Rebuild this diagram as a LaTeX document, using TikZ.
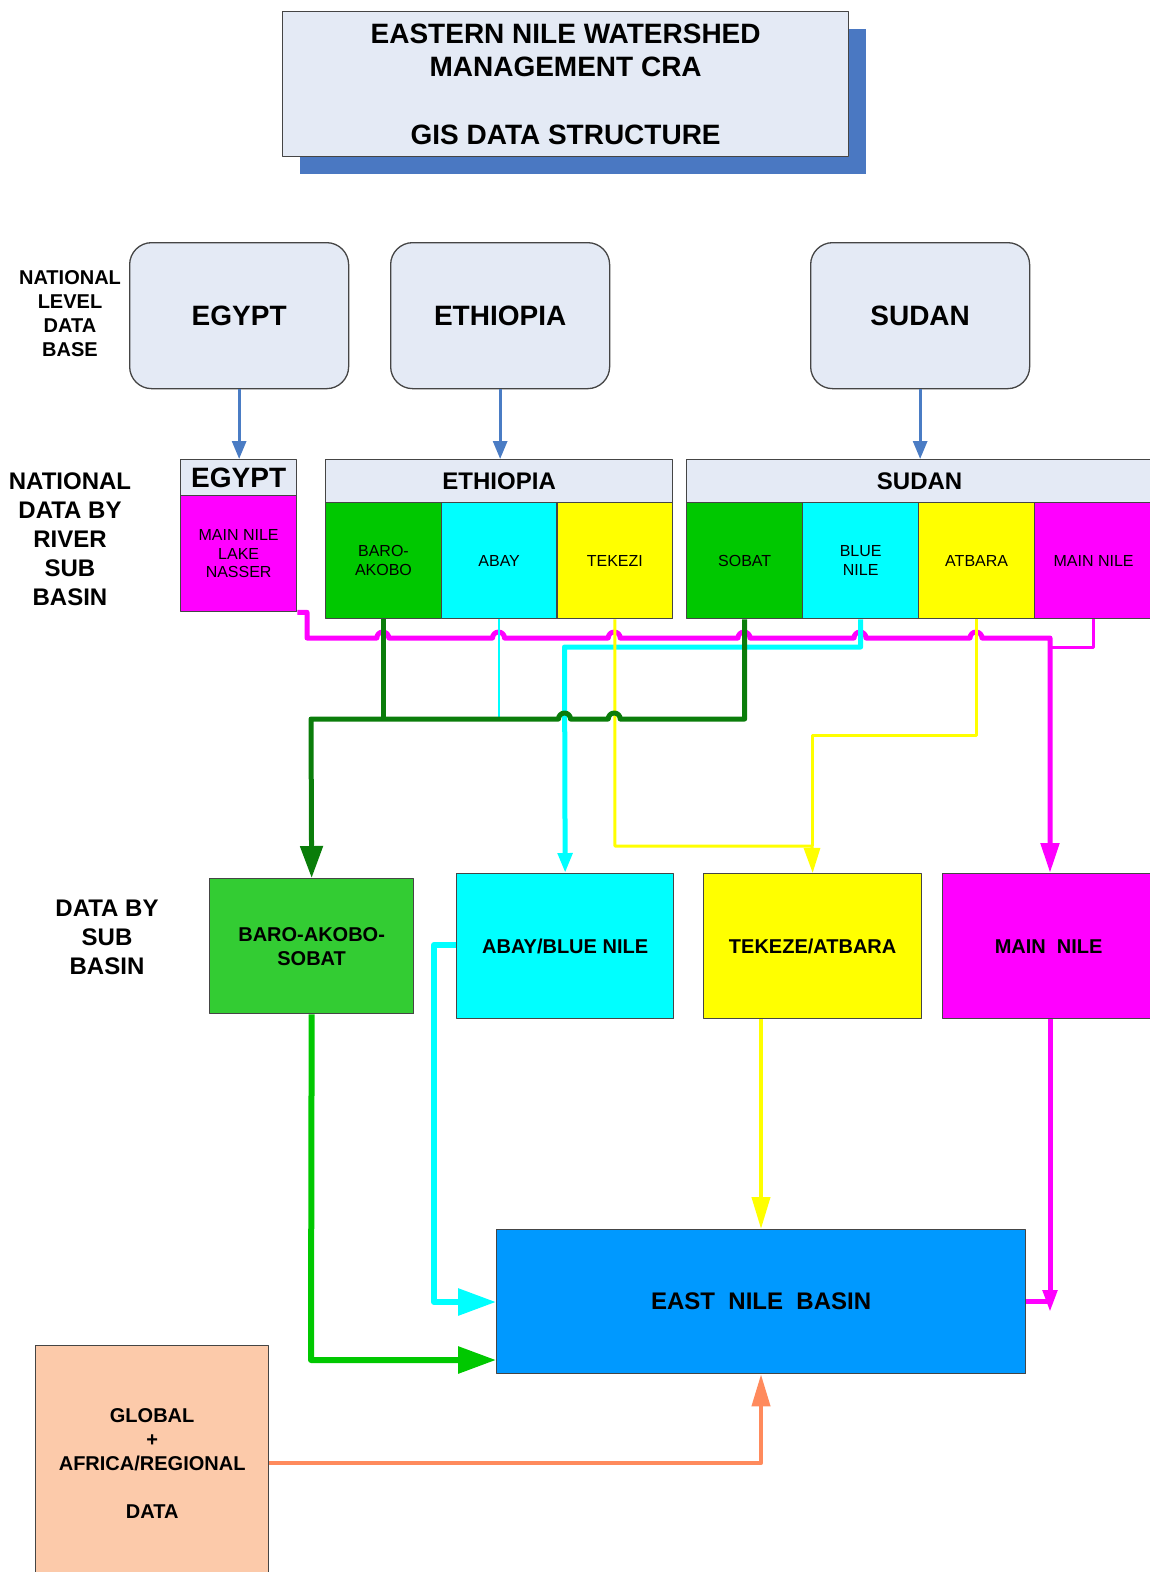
\documentclass[tikz,border=0pt]{standalone}
\usepackage{fontspec}
\setmainfont{Liberation Sans}
\usetikzlibrary{arrows.meta}
\definecolor{hdr}{HTML}{E4EAF5}
\definecolor{shadowblue}{HTML}{4A78C2}
\definecolor{bluearrow}{HTML}{4A7CC4}
\definecolor{mag}{HTML}{FF00FF}
\definecolor{cy}{HTML}{00FFFF}
\definecolor{yel}{HTML}{FFFF00}
\definecolor{grn}{HTML}{00C800}
\definecolor{dgrn}{HTML}{0A7D0A}
\definecolor{lgrn}{HTML}{33CC33}
\definecolor{enb}{HTML}{0099FF}
\definecolor{peach}{HTML}{FCCAAA}
\definecolor{coral}{HTML}{FF8A5C}
\definecolor{edge}{HTML}{454545}
\tikzset{
  rect/.style={draw=edge, line width=1.3pt, anchor=north west, inner sep=0pt, align=center},
  natbox/.style={rect, fill=hdr, rounded corners=22pt, minimum width=219pt, minimum height=146pt,
     font=\fontsize{28}{33}\selectfont\bfseries},
  hdrbox/.style={rect, fill=hdr, minimum height=43pt, font=\fontsize{24}{28}\selectfont\bfseries},
  subbox/.style={rect, minimum width=115.67pt, minimum height=116pt, font=\fontsize{16}{18.5}\selectfont},
  basinbox/.style={rect, minimum width=217pt, minimum height=145pt, font=\fontsize{20}{24}\selectfont\bfseries},
  sidelabel/.style={align=center, inner sep=0pt, font=\fontsize{24}{29}\selectfont\bfseries},
  blarr/.style={draw=bluearrow, line width=3pt, -{Triangle[length=18pt,width=14pt]}},
}
\begin{document}
\begin{tikzpicture}[x=1pt,y=-1pt,line join=round]
\useasboundingbox (0,0) rectangle (1149,1572);

% ---- title ----
\node[anchor=north west, fill=shadowblue, inner sep=0pt, minimum width=566pt, minimum height=145pt] (titleshadow) at (300,29) {};
\node[rect, fill=hdr, minimum width=566pt, minimum height=145pt, font=\fontsize{28}{33}\selectfont\bfseries] (title) at (282,11)
  {EASTERN NILE WATERSHED\\MANAGEMENT CRA\\[35pt]GIS DATA STRUCTURE};

% ---- side labels ----
\node[sidelabel, font=\fontsize{20}{24}\selectfont\bfseries] (lab1) at (70,314) {NATIONAL\\LEVEL\\DATA\\BASE};
\node[sidelabel] (lab2) at (70,539) {NATIONAL\\DATA BY\\RIVER\\SUB\\BASIN};
\node[sidelabel] (lab3) at (107,937) {DATA BY\\SUB\\BASIN};

% ---- national level ----
\node[natbox] (natEg) at (129,242) {EGYPT};
\node[natbox] (natEt) at (390,242) {ETHIOPIA};
\node[natbox] (natSd) at (810,242) {SUDAN};

% ---- national data by river sub basin ----
\node[rect, fill=hdr, minimum width=116pt, minimum height=36pt, font=\fontsize{28}{30}\selectfont\bfseries] (egH) at (180,459) {EGYPT};
\node[rect, fill=mag, minimum width=116pt, minimum height=116pt, font=\fontsize{16}{18.5}\selectfont] (egM) at (180,495) {MAIN NILE\\LAKE\\NASSER};

\node[hdrbox, minimum width=347pt] (etH) at (325,459) {ETHIOPIA};
\node[subbox, fill=grn] (baro) at (325,502) {BARO-\\AKOBO};
\node[subbox, fill=cy] (abay) at (440.67,502) {ABAY};
\node[subbox, fill=yel] (tek) at (556.33,502) {TEKEZI};

\node[hdrbox, minimum width=466pt] (sdH) at (686,459) {SUDAN};
\node[subbox, fill=grn, minimum width=116pt] (sobat) at (686,502) {SOBAT};
\node[subbox, fill=cy, minimum width=116pt] (bn) at (802,502) {BLUE\\NILE};
\node[subbox, fill=yel, minimum width=116pt] (atb) at (918,502) {ATBARA};
\node[subbox, fill=mag, minimum width=118pt] (smn) at (1034,502) {MAIN NILE};

% ---- data by sub basin ----
\node[basinbox, fill=lgrn, minimum width=204pt, minimum height=135pt] (bas3) at (209,878) {BARO-AKOBO-\\SOBAT};
\node[basinbox, fill=cy] (abay3) at (456,873) {ABAY/BLUE NILE};
\node[basinbox, fill=yel, minimum width=218pt] (tek3) at (703,873) {TEKEZE/ATBARA};
\node[basinbox, fill=mag, minimum width=212pt] (mn3) at (942,873) {MAIN\ \ NILE};

% ---- east nile basin and global ----
\node[rect, fill=enb, minimum width=529pt, minimum height=144pt, font=\fontsize{24}{28}\selectfont\bfseries] (en) at (496,1229) {EAST\ \ NILE\ \ BASIN};
\node[rect, fill=peach, minimum width=233pt, minimum height=235pt, font=\fontsize{20}{24}\selectfont\bfseries] (glob) at (35,1345)
  {GLOBAL\\+\\AFRICA/REGIONAL\\[24pt]DATA};

% ---- helper coordinates ----
\coordinate (mcol) at (1050,0);
\coordinate (ycol) at (761,0);
\coordinate (gl) at (311,719);
\coordinate (cbend) at (564.5,647);
\coordinate (yb) at (812,846);
\coordinate (ya) at (812,735);
\coordinate (gb) at (311,1360);
\coordinate (cl) at (434,945);
\coordinate (cl2) at (434,1302);
\coordinate (mtip) at (1050,1312);

% ---- blue arrows ----
\draw[blarr] (natEg.south) -- (natEg.south |- egH.north);
\draw[blarr] (natEt.south) -- (natEt.south |- etH.north);
\draw[blarr] (natSd.south) -- (natSd.south |- sdH.north);

% ---- magenta collector with hops ----
\draw[mag, line width=5pt, -{Triangle[length=30pt,width=18pt]}]
  (egM.south east) -| (307,638)
  -- (376.8,638) arc[start angle=180,end angle=0,radius=6pt]
  -- (492.5,638) arc[start angle=180,end angle=0,radius=6pt]
  -- (608.2,638) arc[start angle=180,end angle=0,radius=6pt]
  -- (738,638) arc[start angle=180,end angle=0,radius=6pt]
  -- (854,638) arc[start angle=180,end angle=0,radius=6pt]
  -- (970,638) arc[start angle=180,end angle=0,radius=6pt]
  -- (1050,638) -- (mn3.north -| mcol);
\draw[mag, line width=3pt] (smn.south) |- (1050,647);

% ---- cyan ----
\draw[cy, line width=5pt, -{Triangle[length=20pt,width=14pt]}] (bn.south) |- (cbend) -- (abay3.north);
\draw[cy, line width=2pt] (abay.south) -- (abay.south |- gl);

% ---- yellow ----
\draw[yel, line width=3pt] (atb.south) |- (ya) -- (yb);
\draw[yel, line width=3pt, -{Triangle[length=25pt,width=16pt]}] (tek.south) |- (yb) -- (tek3.north);

% ---- dark green with hops ----
\draw[dgrn, line width=5pt] (baro.south) -- (baro.south |- gl);
\draw[dgrn, line width=5pt, -{Triangle[length=32pt,width=22pt]}]
  (sobat.south) |- (620.2,719) arc[start angle=0,end angle=180,radius=6pt]
  -- (570.5,719) arc[start angle=0,end angle=180,radius=6pt]
  -- (gl) -- (bas3.north);

% ---- into east nile basin ----
\draw[grn, line width=6pt, -{Triangle[length=38pt,width=26pt]}] (bas3.south) -- (gb) -- (gb -| en.west);
\draw[cy, line width=6pt, -{Triangle[length=38pt,width=26pt]}] (abay3.west |- cl) -- (cl) -- (cl2) -- (cl2 -| en.west);
\draw[yel, line width=4pt, -{Triangle[length=32pt,width=18pt]}] (tek3.south -| ycol) -- (en.north -| ycol);
\draw[mag, line width=5pt, -{Triangle[length=22pt,width=14pt]}] (mn3.south -| mcol) -- (mtip);
\draw[mag, line width=5pt] (en.east) -- (en.east -| mcol);
\draw[coral, line width=4pt, -{Triangle[length=32pt,width=18pt]}] (glob.east) -| (en.south -| ycol);
\end{tikzpicture}
\end{document}
